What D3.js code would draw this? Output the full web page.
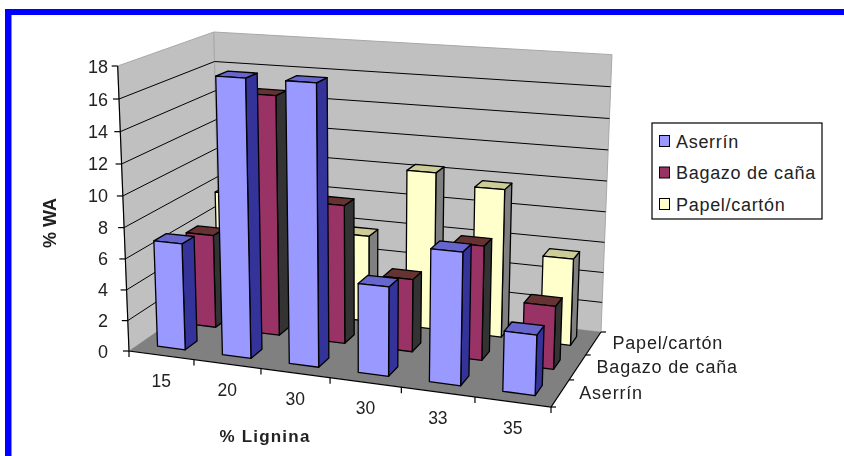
<!DOCTYPE html>
<html>
<head>
<meta charset="utf-8">
<script src="https://d3js.org/d3.v7.min.js"></script>
<style>
html, body { margin: 0; padding: 0; background: #fff; overflow: hidden; }
svg { filter: blur(0.35px); }
text { font-family: "Liberation Sans", Arial, sans-serif; fill: #222; }
</style>
</head>
<body>
<script>
// chart values
var categories = ["15", "20", "30", "30", "33", "35"];
var seriesNames = ["Aserrín", "Bagazo de caña", "Papel/cartón"];
var aserrin = [6.9, 17.5, 17.5, 5.6, 8.2, 3.7];
var bagazo = [6.2, 15.6, 9.0, 4.7, 7.3, 4.0];
var papel = [7.8, 8.0, 5.8, 10.4, 9.7, 5.65];
var yTicks = [0, 2, 4, 6, 8, 10, 12, 14, 16, 18];

var seriesValues = [aserrin, bagazo, papel];
var faceColors = [
    { front: "#9999ff", side: "#333399", top: "#6666cc" },
    { front: "#993366", side: "#333333", top: "#663333" },
    { front: "#ffffcc", side: "#808080", top: "#cccc99" }
];

var width = 844, height = 456;

var svg = d3.select("body").append("svg")
    .attr("width", width)
    .attr("height", height);

// blue frame of the page
svg.append("rect").attr("x", 5).attr("y", 9).attr("width", width).attr("height", 6).attr("fill", "#0000ff");
svg.append("rect").attr("x", 5).attr("y", 9).attr("width", 6.5).attr("height", height - 9).attr("fill", "#0000ff");

// scales go to the unit cube, then the cube is projected on the screen
var xScale = d3.scaleLinear().domain([0, categories.length]).range([0, 1]);
var zScale = d3.scaleLinear().domain([0, seriesNames.length]).range([0, 1]);
var yScale = d3.scaleLinear().domain([0, 18]).range([0, 1]);

// unit square -> floor quad, order: front-left, front-right, back-right, back-left
function quadCoefs(p) {
    var dx1 = p[1][0] - p[2][0], dx2 = p[3][0] - p[2][0], sx = p[0][0] - p[1][0] + p[2][0] - p[3][0];
    var dy1 = p[1][1] - p[2][1], dy2 = p[3][1] - p[2][1], sy = p[0][1] - p[1][1] + p[2][1] - p[3][1];
    var den = dx1 * dy2 - dx2 * dy1;
    var g = (sx * dy2 - dx2 * sy) / den;
    var h = (dx1 * sy - sx * dy1) / den;
    return {
        a: p[1][0] - p[0][0] + g * p[1][0], b: p[3][0] - p[0][0] + h * p[3][0], c: p[0][0],
        d: p[1][1] - p[0][1] + g * p[1][1], e: p[3][1] - p[0][1] + h * p[3][1], f: p[0][1],
        g: g, h: h
    };
}

var floorQ = quadCoefs([[129, 351], [551, 407], [601, 332], [220, 288]]);
// vertical lines of the box meet far below the picture
var vanish = [365, 6300];
var kT = (66 - 351) / (vanish[1] - 66);

function project(cat, ser, val) {
    var u = xScale(cat), v = zScale(ser), t = yScale(val);
    var q = floorQ;
    var w = q.g * u + q.h * v + 1 + kT * t;
    return [(q.a * u + q.b * v + q.c + kT * t * vanish[0]) / w,
            (q.d * u + q.e * v + q.f + kT * t * vanish[1]) / w];
}

var line = d3.line();

function face(pts, fill, stroke, sw) {
    svg.append("path")
        .attr("d", line(pts) + "Z")
        .attr("fill", fill)
        .attr("stroke", stroke || "none")
        .attr("stroke-width", sw || 1)
        .attr("stroke-linejoin", "round");
}

var nCat = categories.length, nSer = seriesNames.length;

// walls and floor
face([project(0, 0, 0), project(0, nSer, 0), project(0, nSer, 18), project(0, 0, 18)], "#c0c0c0", "#a8a8a8", 1);
face([project(0, nSer, 0), project(nCat, nSer, 0), project(nCat, nSer, 18), project(0, nSer, 18)], "#c0c0c0", "#a8a8a8", 1);
face([project(0, 0, 0), project(nCat, 0, 0), project(nCat, nSer, 0), project(0, nSer, 0)], "#808080", null);

// grid lines on both walls
yTicks.forEach(function(t) {
    if (t === 0 || t === 18) return;
    svg.append("path")
        .attr("d", line([project(0, 0, t), project(0, nSer, t), project(nCat, nSer, t)]))
        .attr("fill", "none")
        .attr("stroke", "#000")
        .attr("stroke-width", 1);
});

// axis lines and ticks
svg.append("path")
    .attr("d", line([project(0, 0, 18), project(0, 0, 0), project(nCat, 0, 0), project(nCat, nSer, 0)]))
    .attr("fill", "none").attr("stroke", "#000").attr("stroke-width", 1.2);

function tick(p, dx, dy) {
    svg.append("line")
        .attr("x1", p[0]).attr("y1", p[1])
        .attr("x2", p[0] + dx).attr("y2", p[1] + dy)
        .attr("stroke", "#000").attr("stroke-width", 1.2);
}

yTicks.forEach(function(t) {
    var p = project(0, 0, t);
    tick(p, -6, 0);
    svg.append("text")
        .attr("x", 108).attr("y", p[1] + 6.5)
        .attr("text-anchor", "end")
        .attr("font-size", 18)
        .text(t);
});

d3.range(nCat + 1).forEach(function(i) {
    tick(project(i, 0, 0), 0, 6);
});
d3.range(0, nSer + 1).forEach(function(i) {
    tick(project(nCat, i, 0), 5, 0);
});

categories.forEach(function(c, i) {
    var p = project(i + 0.5, 0, 0);
    svg.append("text")
        .attr("x", p[0]).attr("y", p[1] + 32)
        .attr("text-anchor", "middle")
        .attr("font-size", 17.5)
        .text(c);
});

seriesNames.forEach(function(s, i) {
    var p = project(nCat, i + 0.5, 0);
    svg.append("text")
        .attr("x", p[0] + 19).attr("y", p[1] + 6)
        .attr("font-size", 18)
        .attr("letter-spacing", 0.8)
        .text(s);
});

// bars, back row first, left to right
var gapX = 0.285, gapZ = 0.31;
for (var s = nSer - 1; s >= 0; s--) {
    for (var i = 0; i < nCat; i++) {
        var val = seriesValues[s][i];
        var x0 = i + gapX, x1 = i + 1 - gapX, z0 = s + gapZ, z1 = s + 1 - gapZ;
        var col = faceColors[s];
        face([project(x1, z0, 0), project(x1, z1, 0), project(x1, z1, val), project(x1, z0, val)], col.side, "#000", 1.3);
        face([project(x0, z0, val), project(x1, z0, val), project(x1, z1, val), project(x0, z1, val)], col.top, "#000", 1.3);
        face([project(x0, z0, 0), project(x1, z0, 0), project(x1, z0, val), project(x0, z0, val)], col.front, "#000", 1.3);
    }
}

// axis titles
svg.append("text")
    .attr("x", 265).attr("y", 442)
    .attr("text-anchor", "middle")
    .attr("font-size", 17).attr("font-weight", "bold")
    .attr("letter-spacing", 1.2)
    .text("% Lignina");
svg.append("text")
    .attr("transform", "translate(56,223) rotate(-90)")
    .attr("text-anchor", "middle")
    .attr("font-size", 18).attr("font-weight", "bold")
    .text("% WA");

// legend
svg.append("rect")
    .attr("x", 652).attr("y", 123).attr("width", 170).attr("height", 96)
    .attr("fill", "#fff").attr("stroke", "#000").attr("stroke-width", 1.2);
var legendY = d3.scalePoint().domain(seriesNames).range([141, 204]);
seriesNames.forEach(function(s, i) {
    svg.append("rect")
        .attr("x", 659.5).attr("y", legendY(s) - 5.5).attr("width", 10).attr("height", 11)
        .attr("fill", faceColors[i].front).attr("stroke", "#000").attr("stroke-width", 1);
    svg.append("text")
        .attr("x", 676).attr("y", legendY(s) + 6.5)
        .attr("font-size", 18)
        .attr("letter-spacing", 0.7)
        .text(s);
});
</script>
</body>
</html>
